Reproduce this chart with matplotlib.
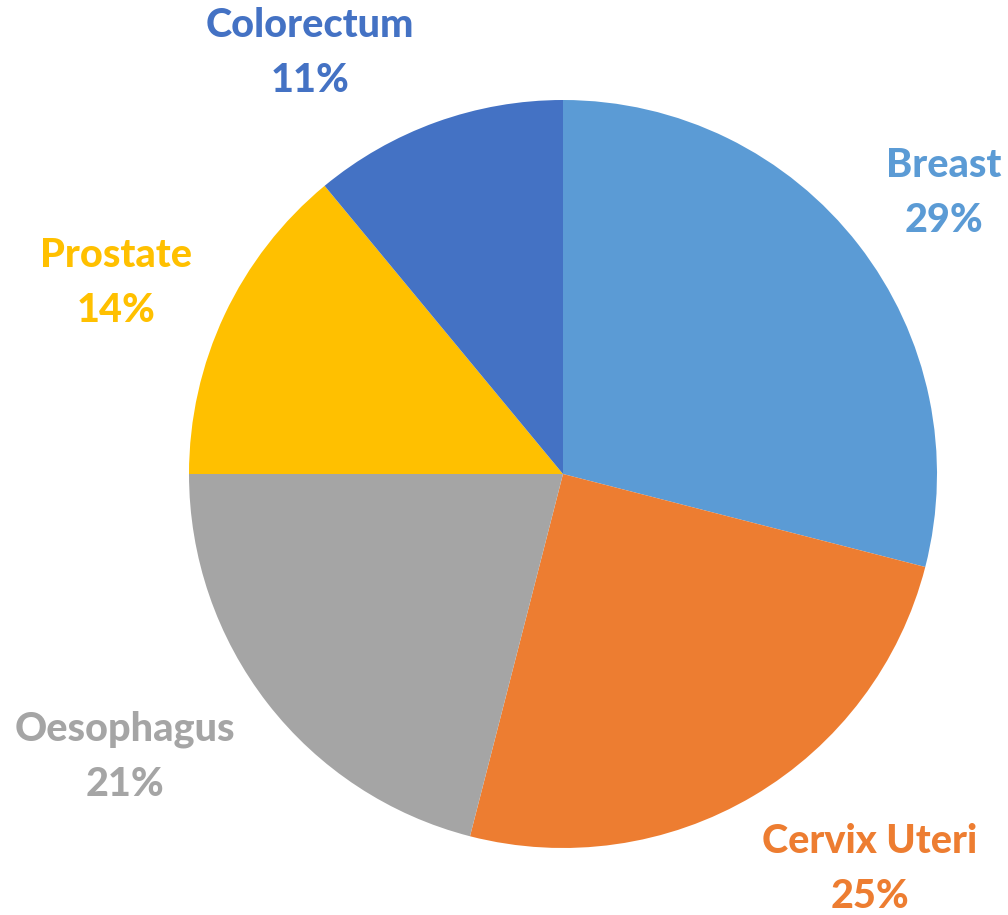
import matplotlib
matplotlib.use("Agg")
import matplotlib.pyplot as plt

# data
labels = ["Breast", "Cervix Uteri", "Oesophagus", "Prostate", "Colorectum"]
shares = [29, 25, 21, 14, 11]
colors = ["#5B9BD5", "#ED7D31", "#A5A5A5", "#FFC000", "#4472C4"]

# label centres, in pie radii from the centre
label_xy = [(1.019, 0.750), (0.821, -1.056), (-1.171, -0.757), (-1.195, 0.510), (-0.676, 1.126)]

W, H = 1008, 915
cx, cy, R = 563, 474, 374   # pixels

fig = plt.figure(figsize=(W / 100, H / 100), dpi=100)
ax = fig.add_axes([0, 0, 1, 1])

wedges, _ = ax.pie(shares, colors=colors, startangle=90, counterclock=False,
                   radius=1.0, wedgeprops=dict(linewidth=0))

for lab, val, col, (x, y) in zip(labels, shares, colors, label_xy):
    ax.text(x, y, "%s\n%d%%" % (lab, val), color=col, ha="center", va="center",
            fontsize=28.5, fontweight="black", family=["Lato", "DejaVu Sans"],
            linespacing=1.6)

ax.set_xlim(-cx / R, (W - cx) / R)
ax.set_ylim(-(H - cy) / R, cy / R)
ax.set_aspect("auto")
ax.axis("off")

fig.savefig("out.png", dpi=100)
